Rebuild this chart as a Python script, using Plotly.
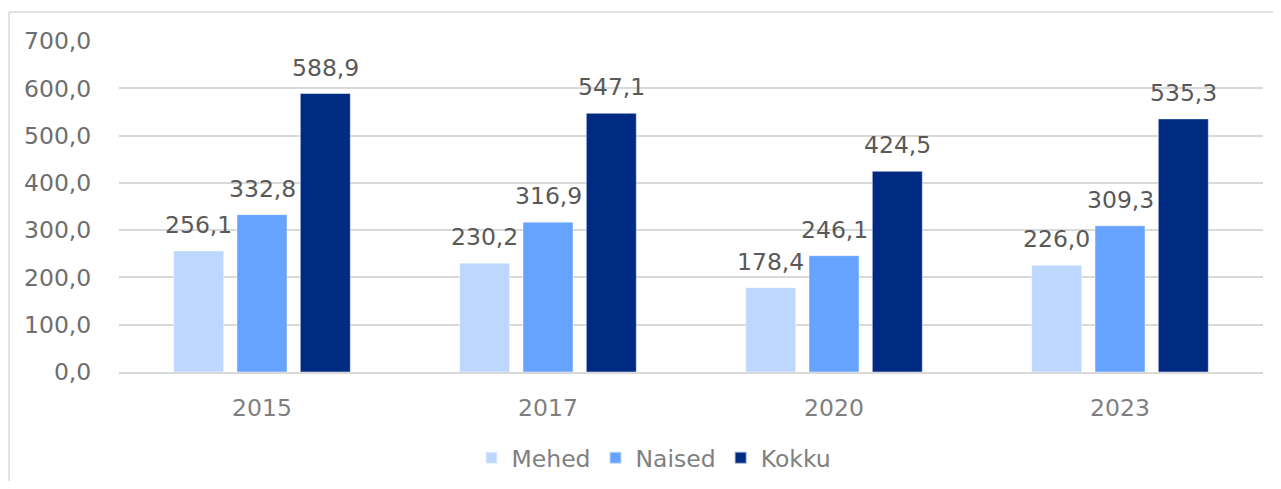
import plotly.graph_objects as go

years = ["2015", "2017", "2020", "2023"]
series_names = ["Mehed", "Naised", "Kokku"]
mehed = [256.1, 230.2, 178.4, 226.0]
naised = [332.8, 316.9, 246.1, 309.3]
kokku = [588.9, 547.1, 424.5, 535.3]
y_ticks = [0, 100, 200, 300, 400, 500, 600, 700]

colors = ["#BDD7FF", "#66A3FF", "#002B82"]
values = [mehed, naised, kokku]

FONT = "DejaVu Sans, Verdana, sans-serif"
FS = 23.5

fig = go.Figure()
for name, vals, col in zip(series_names, values, colors):
    fig.add_trace(go.Bar(
        x=years, y=vals, name=name,
        marker=dict(color=col, line=dict(color="rgba(255,255,255,0.6)", width=0.8)),
    ))

# data labels via annotations positioned on the data axes (category index)
slot_px = 63.3
for i, vals in enumerate(values):
    for j, v in enumerate(vals):
        fig.add_annotation(
            x=j, y=v, xref="x", yref="y",
            text=f"{v:.1f}".replace(".", ","),
            showarrow=False, yanchor="bottom", xanchor="center",
            xshift=(i - 1) * slot_px, yshift=10,
            font=dict(family=FONT, size=FS, color="#595959"),
        )

# page has an 8px body margin; figure sized to fit the window
OFF = 8
W, H = 1281 - 2 * OFF, 489 - 2 * OFF
L, R, T = 119 - OFF, 1281 - OFF - 1263 - OFF + OFF, 41 - OFF
R = W - (1263 - OFF)
B = H - (372 - OFF)
pw, ph = W - L - R, H - T - B

def px_to_paper_x(px):
    return (px - OFF - L) / pw

def px_to_paper_y(py):
    return (H - B - (py - OFF)) / ph

# outer chart border (top and left visible)
fig.add_shape(type="line", xref="paper", yref="paper",
              x0=px_to_paper_x(9), x1=px_to_paper_x(1300),
              y0=px_to_paper_y(12), y1=px_to_paper_y(12),
              line=dict(color="#D9D9D9", width=1.5))
fig.add_shape(type="line", xref="paper", yref="paper",
              x0=px_to_paper_x(9), x1=px_to_paper_x(9),
              y0=px_to_paper_y(12), y1=px_to_paper_y(520),
              line=dict(color="#D9D9D9", width=1.5))

fig.update_layout(
    width=W, height=H,
    margin=dict(l=L, r=R, t=T, b=B, autoexpand=False),
    barmode="group", bargap=0.336, bargroupgap=0.21,
    plot_bgcolor="white", paper_bgcolor="white",
    separators=", ",
    font=dict(family=FONT, size=FS, color="#7F7F7F"),
    showlegend=True,
    legend=dict(orientation="h", xanchor="center", yanchor="middle",
                x=px_to_paper_x(654), y=px_to_paper_y(458),
                font=dict(family=FONT, size=FS, color="#7F7F7F"),
                itemsizing="constant", traceorder="normal",
                bgcolor="rgba(0,0,0,0)"),
    xaxis=dict(type="category", automargin=False,
               categoryorder="array", categoryarray=years,
               range=[-0.5, len(years) - 0.5],
               showline=True, linecolor="#D9D9D9", linewidth=2,
               ticks="outside", ticklen=14, tickcolor="rgba(0,0,0,0)",
               tickfont=dict(family=FONT, size=FS, color="#7F7F7F"),
               showgrid=False),
    yaxis=dict(range=[0, 700], tickvals=y_ticks, tickformat=".1f",
               automargin=False,
               showgrid=True, gridcolor="#D9D9D9", gridwidth=1.5,
               zeroline=False, showline=False,
               ticks="outside", ticklen=22, tickcolor="rgba(0,0,0,0)",
               tickfont=dict(family=FONT, size=FS, color="#6E6E6E")),
)

fig.write_html("out.html")
